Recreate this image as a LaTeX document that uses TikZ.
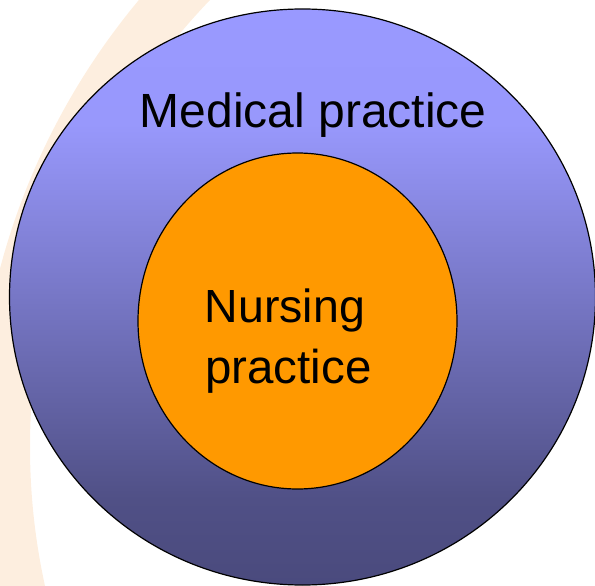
\documentclass[tikz,border=0pt]{standalone}
\usepackage{fontspec}
\setmainfont{Liberation Sans}
\usetikzlibrary{shapes.geometric}
\definecolor{peach}{RGB}{253,238,223}
\definecolor{nurseorange}{RGB}{255,153,0}
\pgfdeclareverticalshading{medshade}{100bp}{%
  color(0bp)=({rgb,255:red,74;green,74;blue,125});
  color(25bp)=({rgb,255:red,74;green,74;blue,125});
  color(32.5bp)=({rgb,255:red,80;green,80;blue,134});
  color(65bp)=({rgb,255:red,152;green,152;blue,252});
  color(75bp)=({rgb,255:red,153;green,153;blue,255});
  color(100bp)=({rgb,255:red,153;green,153;blue,255})}
\tikzset{
  ring/.style={ellipse, draw=black, line width=1.2pt, inner sep=0pt},
  label/.style={font=\fontsize{46.5}{56}\selectfont, text=black, inner sep=0pt}
}
\begin{document}
\begin{tikzpicture}[x=1pt,y=-1pt]
  \useasboundingbox (0,0) rectangle (595,586);
  \begin{scope}
    \clip (0,0) rectangle (595,586);
    \fill[peach, even odd rule] (675,447) circle[radius=698] (675,447) circle[radius=645];
  \end{scope}
  \node[ring, shading=medshade, minimum width=586pt, minimum height=576pt] (medical) at (302.5,297) {};
  \node[ring, fill=nurseorange, minimum width=319pt, minimum height=336pt] (nursing) at (297.5,321) {};
  \node[label, font=\fontsize{48}{56}\selectfont, anchor=base west] (medtext) at (139.5,128) {Medical practice};
  \node[label, anchor=base west] (nursetext1) at (204.5,322) {Nursing};
  \node[label, font=\fontsize{47.5}{56}\selectfont, anchor=base west] (nursetext2) at (205,383) {practice};
\end{tikzpicture}
\end{document}
